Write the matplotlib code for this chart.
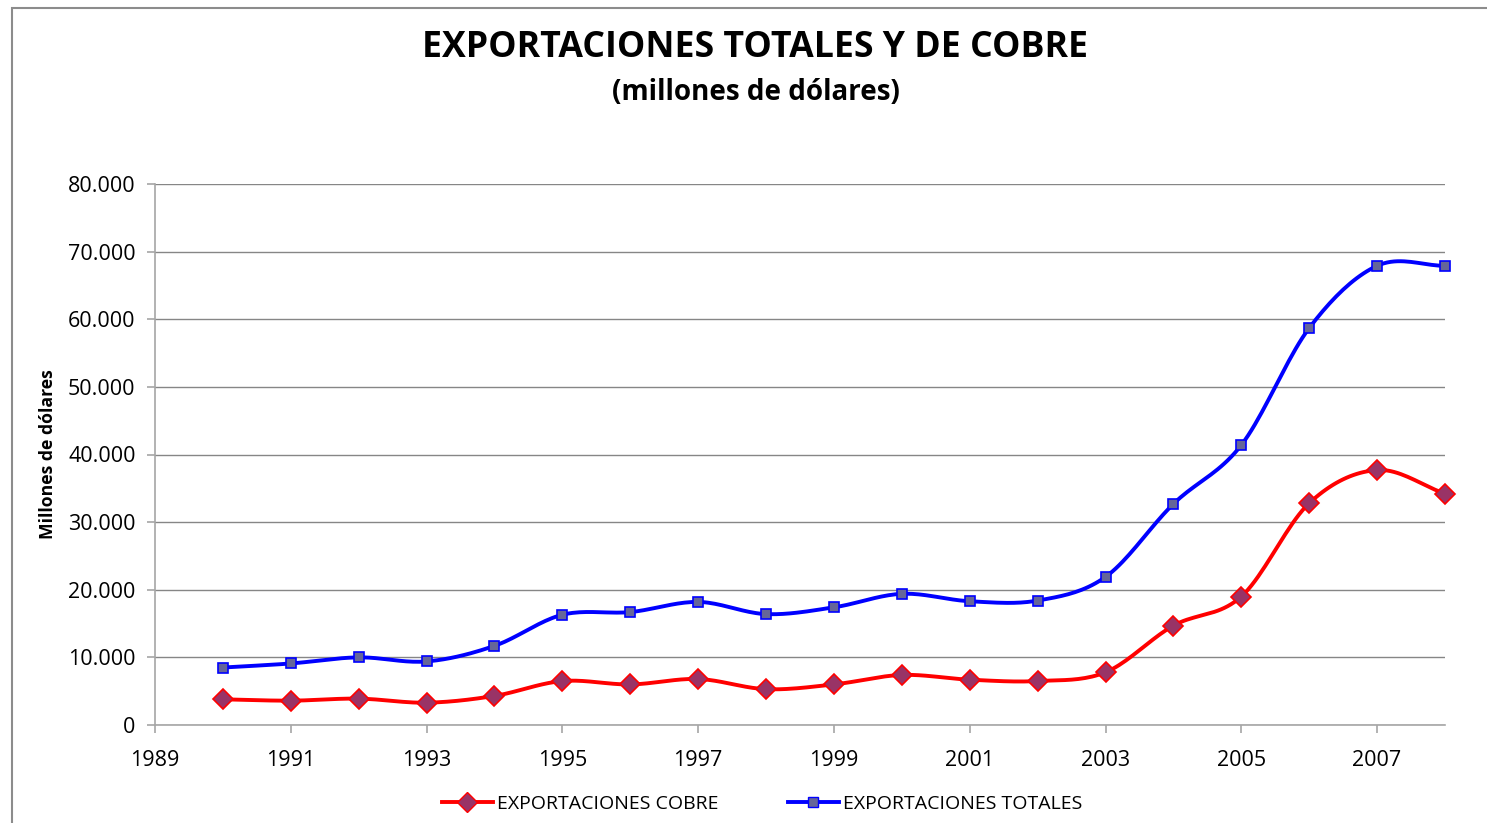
import numpy as np
import matplotlib.pyplot as plt
from matplotlib.ticker import FuncFormatter
from matplotlib.patches import Rectangle

years = [1990, 1991, 1992, 1993, 1994, 1995, 1996, 1997, 1998, 1999,
         2000, 2001, 2002, 2003, 2004, 2005, 2006, 2007, 2008]
cobre = [3.8, 3.6, 3.9, 3.3, 4.3, 6.5, 6.0, 6.8, 5.3, 6.0,
         7.4, 6.7, 6.5, 7.8, 14.7, 19.0, 32.8, 37.7, 34.2]
totales = [8.5, 9.1, 10.0, 9.4, 11.7, 16.3, 16.7, 18.2, 16.4, 17.4,
           19.4, 18.3, 18.4, 21.9, 32.7, 41.4, 58.7, 67.9, 67.9]
cobre = [v * 1000 for v in cobre]
totales = [v * 1000 for v in totales]


def smooth(x, y, n=20):
    # catmull-rom curve through the points, similar to excel smoothed lines
    x = np.asarray(x, float)
    y = np.asarray(y, float)
    px = np.concatenate([[2 * x[0] - x[1]], x, [2 * x[-1] - x[-2]]])
    py = np.concatenate([[2 * y[0] - y[1]], y, [2 * y[-1] - y[-2]]])
    xs, ys = [], []
    t = np.linspace(0, 1, n, endpoint=False)
    for i in range(1, len(px) - 2):
        for p, out in ((px, xs), (py, ys)):
            p0, p1, p2, p3 = p[i - 1], p[i], p[i + 1], p[i + 2]
            out.extend(0.5 * ((2 * p1) + (-p0 + p2) * t
                              + (2 * p0 - 5 * p1 + 4 * p2 - p3) * t ** 2
                              + (-p0 + 3 * p1 - 3 * p2 + p3) * t ** 3))
    xs.append(x[-1])
    ys.append(y[-1])
    return xs, ys


plt.rcParams['font.family'] = ['Open Sans', 'DejaVu Sans']

fig = plt.figure(figsize=(14.87, 8.23), dpi=100)
ax = fig.add_axes([155 / 1487, 1 - 725 / 823, 1290 / 1487, 541 / 823])

fig.patches.append(Rectangle((12 / 1487, -0.05), 1.2, 1 - 8 / 823 + 0.05,
                             transform=fig.transFigure, fill=False,
                             edgecolor='#8c8c8c', linewidth=1.5))

sx, sy = smooth(years, cobre)
ax.plot(sx, sy, color='#ff0000', linewidth=2.8, zorder=3, clip_on=False)
ax.plot(years, cobre, linestyle='none', marker='D', markersize=10,
        markerfacecolor='#993366', markeredgecolor='#ff0000',
        markeredgewidth=1.2, zorder=4, clip_on=False)
sx, sy = smooth(years, totales)
ax.plot(sx, sy, color='#0000ff', linewidth=2.8, zorder=3, clip_on=False)
ax.plot(years, totales, linestyle='none', marker='s', markersize=7.5,
        markerfacecolor='#666699', markeredgecolor='#0000ff',
        markeredgewidth=1.2, zorder=4, clip_on=False)

# legend handles
h1, = ax.plot([], [], color='#ff0000', linewidth=2.8, marker='D', markersize=10,
              markerfacecolor='#993366', markeredgecolor='#ff0000')
h2, = ax.plot([], [], color='#0000ff', linewidth=2.8, marker='s', markersize=7.5,
              markerfacecolor='#666699', markeredgecolor='#0000ff')
fig.legend([h1, h2], ['EXPORTACIONES COBRE', 'EXPORTACIONES TOTALES'],
           loc='center', bbox_to_anchor=(762 / 1487, 1 - 804 / 823), ncol=2,
           frameon=False, fontsize=14, columnspacing=3.6, handlelength=2.6,
           handletextpad=0.2)

ax.set_xlim(1989, 2008)
ax.set_ylim(0, 80000)
ax.set_xticks(range(1989, 2008, 2))
ax.set_yticks(range(0, 80001, 10000))
ax.yaxis.set_major_formatter(FuncFormatter(lambda v, p: f"{int(v):,}".replace(',', '.')))
ax.grid(axis='y', color='#868686', linewidth=1)
ax.set_axisbelow(True)
for s in ['top', 'right']:
    ax.spines[s].set_visible(False)
for s in ['left', 'bottom']:
    ax.spines[s].set_color('#a6a6a6')
    ax.spines[s].set_linewidth(1.2)
ax.tick_params(axis='both', colors='#a6a6a6', length=6, width=1.2,
               labelcolor='black', labelsize=15.5)
ax.tick_params(axis='x', pad=12)
ax.tick_params(axis='y', pad=8)
ax.set_ylabel('Millones de dólares', fontsize=12.7, fontweight='bold', labelpad=8)

fig.text(755 / 1487, 1 - 48 / 823, 'EXPORTACIONES TOTALES Y DE COBRE',
         ha='center', va='center', fontsize=25.7, fontweight='bold')
fig.text(756 / 1487, 1 - 92 / 823, '(millones de dólares)',
         ha='center', va='center', fontsize=20, fontweight='bold')

fig.savefig('out.png', dpi=100)
